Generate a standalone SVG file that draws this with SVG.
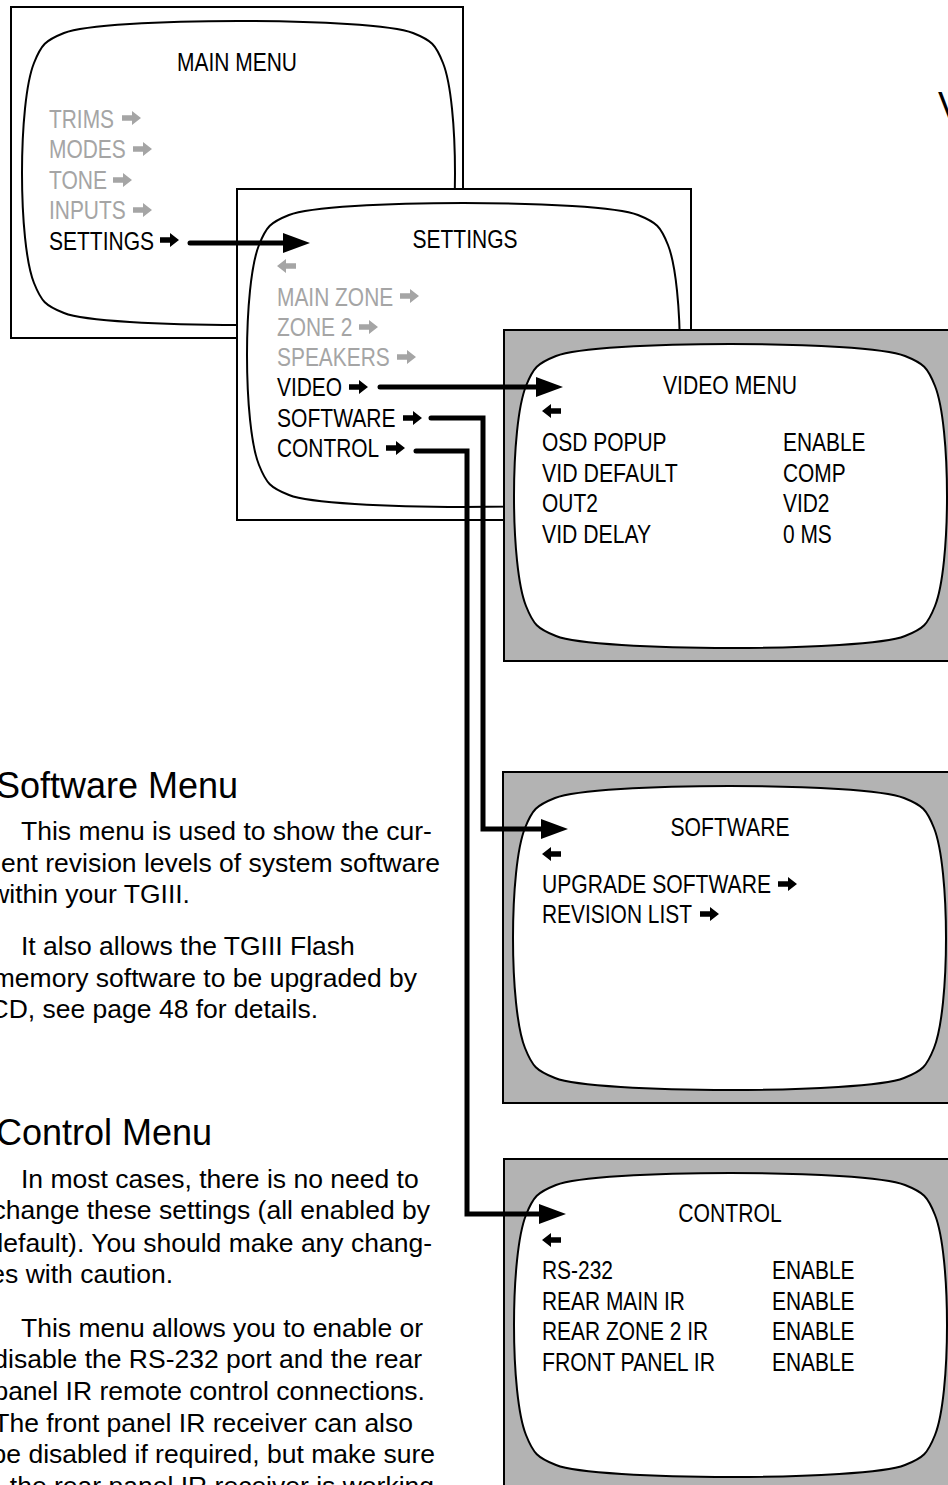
<svg xmlns="http://www.w3.org/2000/svg" width="948" height="1485" viewBox="0 0 948 1485">
<style>
.frame{stroke:#000;stroke-width:2;fill:#fff}
.gray{fill:#b3b3b3}
.scr{fill:#fff;stroke:#000;stroke-width:2}
.m{font-family:"Liberation Sans",Arial,sans-serif;font-size:25.5px;fill:#000}
.g{fill:#a5a5a5}
.t{font-family:"Liberation Sans",Arial,sans-serif;font-size:26.5px;fill:#000}
.h{font-family:"Liberation Sans",Arial,sans-serif;font-size:36px;fill:#000}
.conn{fill:none;stroke:#000;stroke-width:5;stroke-linecap:round;stroke-linejoin:miter}
</style>
<defs>
<path id="scr" d="M52,26 C92,10 361,10 401,26 C419.6,33.4 423.6,37.4 431,56 C447,96 447,236 431,276 C423.6,294.6 419.6,298.6 401,306 C361,322 92,322 52,306 C33.4,298.6 29.4,294.6 22,276 C6,236 6,96 22,56 C29.4,37.4 33.4,33.4 52,26 Z"/>
<path id="ra" d="M0,-2.8H10V-7L19,0L10,7V2.8H0Z"/>
<path id="la" d="M19,-2.8H9V-7L0,0L9,7V2.8H19Z"/>
<marker id="ah" viewBox="0 0 27 20" markerWidth="27" markerHeight="20" refX="0" refY="10" orient="auto" markerUnits="userSpaceOnUse"><path d="M0,0L27,10L0,20Z" fill="#000"/></marker>
</defs>

<g id="main-menu">
<rect class="frame" x="11" y="7" width="452" height="331"/>
<use href="#scr" class="scr" transform="translate(12,7)"/>
<text class="m" x="237" y="71" text-anchor="middle" textLength="120" lengthAdjust="spacingAndGlyphs">MAIN MENU</text>
<text class="m g" x="49" y="128" textLength="65" lengthAdjust="spacingAndGlyphs">TRIMS</text><use href="#ra" x="122" y="118" class="g"/>
<text class="m g" x="49" y="158" textLength="76.7" lengthAdjust="spacingAndGlyphs">MODES</text><use href="#ra" x="133" y="149" class="g"/>
<text class="m g" x="49" y="189" textLength="58.1" lengthAdjust="spacingAndGlyphs">TONE</text><use href="#ra" x="113" y="180" class="g"/>
<text class="m g" x="49" y="219" textLength="76.7" lengthAdjust="spacingAndGlyphs">INPUTS</text><use href="#ra" x="133" y="210" class="g"/>
<text class="m" x="49" y="250" textLength="105" lengthAdjust="spacingAndGlyphs">SETTINGS</text><use href="#ra" x="160" y="240"/>
</g>

<g id="settings">
<rect class="frame" x="237" y="189" width="454" height="331"/>
<use href="#scr" class="scr" transform="translate(237,189)"/>
<text class="m" x="465" y="248" text-anchor="middle" textLength="105" lengthAdjust="spacingAndGlyphs">SETTINGS</text>
<use href="#la" x="277" y="266" class="g"/>
<text class="m g" x="277" y="306" textLength="116.2" lengthAdjust="spacingAndGlyphs">MAIN ZONE</text><use href="#ra" x="400" y="296" class="g"/>
<text class="m g" x="277" y="336" textLength="75.5" lengthAdjust="spacingAndGlyphs">ZONE 2</text><use href="#ra" x="359" y="327" class="g"/>
<text class="m g" x="277" y="366" textLength="112.7" lengthAdjust="spacingAndGlyphs">SPEAKERS</text><use href="#ra" x="397" y="357" class="g"/>
<text class="m" x="277" y="396" textLength="65.1" lengthAdjust="spacingAndGlyphs">VIDEO</text><use href="#ra" x="349" y="387"/>
<text class="m" x="277" y="427" textLength="118.5" lengthAdjust="spacingAndGlyphs">SOFTWARE</text><use href="#ra" x="403" y="418"/>
<text class="m" x="277" y="457" textLength="102.2" lengthAdjust="spacingAndGlyphs">CONTROL</text><use href="#ra" x="386" y="448"/>
</g>

<g id="video-menu">
<rect class="frame gray" x="504" y="330" width="452" height="331"/>
<use href="#scr" class="scr" transform="translate(504,330)"/>
<text class="m" x="730" y="394" text-anchor="middle" textLength="134" lengthAdjust="spacingAndGlyphs">VIDEO MENU</text>
<use href="#la" x="542" y="411"/>
<text class="m" x="542" y="451" textLength="124.5" lengthAdjust="spacingAndGlyphs">OSD POPUP</text><text class="m" x="783" y="451" textLength="82.5" lengthAdjust="spacingAndGlyphs">ENABLE</text>
<text class="m" x="542" y="482" textLength="135.9" lengthAdjust="spacingAndGlyphs">VID DEFAULT</text><text class="m" x="783" y="482" textLength="62.7" lengthAdjust="spacingAndGlyphs">COMP</text>
<text class="m" x="542" y="512" textLength="55.8" lengthAdjust="spacingAndGlyphs">OUT2</text><text class="m" x="783" y="512" textLength="46.5" lengthAdjust="spacingAndGlyphs">VID2</text>
<text class="m" x="542" y="543" textLength="109.2" lengthAdjust="spacingAndGlyphs">VID DELAY</text><text class="m" x="783" y="543" textLength="48.8" lengthAdjust="spacingAndGlyphs">0 MS</text>
</g>

<g id="software-menu">
<rect class="frame gray" x="503" y="772" width="452" height="331"/>
<use href="#scr" class="scr" transform="translate(503,772)"/>
<text class="m" x="730" y="836" text-anchor="middle" textLength="119" lengthAdjust="spacingAndGlyphs">SOFTWARE</text>
<use href="#la" x="542" y="854"/>
<text class="m" x="542" y="893" textLength="229" lengthAdjust="spacingAndGlyphs">UPGRADE SOFTWARE</text><use href="#ra" x="778" y="884"/>
<text class="m" x="542" y="923" textLength="150" lengthAdjust="spacingAndGlyphs">REVISION LIST</text><use href="#ra" x="700" y="914"/>
</g>

<g id="control-menu">
<rect class="frame gray" x="504" y="1159" width="452" height="331"/>
<use href="#scr" class="scr" transform="translate(504,1159)"/>
<text class="m" x="730" y="1222" text-anchor="middle" textLength="103.5" lengthAdjust="spacingAndGlyphs">CONTROL</text>
<use href="#la" x="542" y="1240"/>
<text class="m" x="542" y="1279" textLength="70.9" lengthAdjust="spacingAndGlyphs">RS-232</text><text class="m" x="772" y="1279" textLength="82.5" lengthAdjust="spacingAndGlyphs">ENABLE</text>
<text class="m" x="542" y="1310" textLength="142.9" lengthAdjust="spacingAndGlyphs">REAR MAIN IR</text><text class="m" x="772" y="1310" textLength="82.5" lengthAdjust="spacingAndGlyphs">ENABLE</text>
<text class="m" x="542" y="1340" textLength="166.2" lengthAdjust="spacingAndGlyphs">REAR ZONE 2 IR</text><text class="m" x="772" y="1340" textLength="82.5" lengthAdjust="spacingAndGlyphs">ENABLE</text>
<text class="m" x="542" y="1371" textLength="173" lengthAdjust="spacingAndGlyphs">FRONT PANEL IR</text><text class="m" x="772" y="1371" textLength="82.5" lengthAdjust="spacingAndGlyphs">ENABLE</text>
</g>

<g id="connectors">
<path class="conn" d="M190,243 H283" marker-end="url(#ah)"/>
<path class="conn" d="M380,387 H536" marker-end="url(#ah)"/>
<path class="conn" d="M431,418 H483 V829 H541" marker-end="url(#ah)"/>
<path class="conn" d="M416,451 H467 V1214 H539" marker-end="url(#ah)"/>
</g>

<g id="body-text">
<text class="h" x="938" y="118">V</text>
<text class="h" x="-4" y="798">Software Menu</text>
<text class="t" x="21" y="840">This menu is used to show the cur-</text>
<text class="t" x="440" y="872" text-anchor="end">ent revision levels of system software</text>
<text class="t" x="190" y="903" text-anchor="end">within your TGIII.</text>
<text class="t" x="21" y="955">It also allows the TGIII Flash</text>
<text class="t" x="417" y="987" text-anchor="end">memory software to be upgraded by</text>
<text class="t" x="318" y="1018" text-anchor="end">CD, see page 48 for details.</text>
<text class="h" x="-4" y="1145">Control Menu</text>
<text class="t" x="21" y="1188">In most cases, there is no need to</text>
<text class="t" x="430" y="1219" text-anchor="end">change these settings (all enabled by</text>
<text class="t" x="432" y="1252" text-anchor="end">default). You should make any chang-</text>
<text class="t" x="173" y="1283" text-anchor="end">es with caution.</text>
<text class="t" x="21" y="1337">This menu allows you to enable or</text>
<text class="t" x="422" y="1368" text-anchor="end">disable the RS-232 port and the rear</text>
<text class="t" x="425" y="1400" text-anchor="end">panel IR remote control connections.</text>
<text class="t" x="413" y="1432" text-anchor="end">The front panel IR receiver can also</text>
<text class="t" x="435" y="1463" text-anchor="end">be disabled if required, but make sure</text>
<text class="t" x="434" y="1495" text-anchor="end">the rear panel IR receiver is working</text>
</g>
</svg>
